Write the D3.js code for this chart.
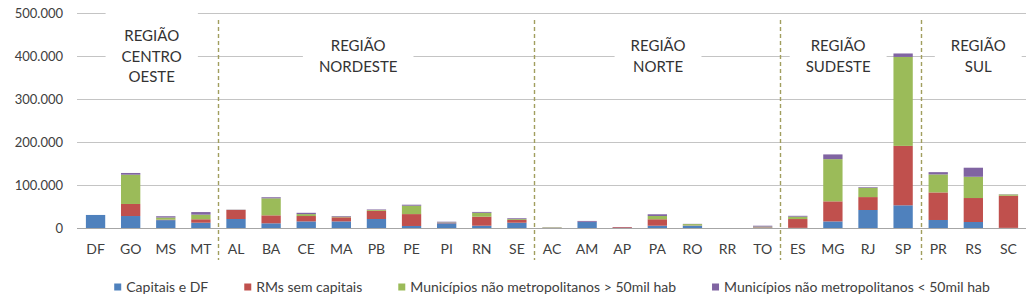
<html>
<head>
    <meta charset="utf-8">
    <title>Municípios por região</title>
    <style>
        body {
            margin: 0;
            background: white;
            font-family: Lato, "Open Sans", sans-serif;
        }
        .grid line {
            stroke: #c4c4c4;
        }
        .m-text {
            fill: #404040;
            font-size: 13px;
        }
        .m-big {
            fill: #404040;
            font-size: 14px;
        }
        .m-region {
            fill: #333333;
            font-size: 15px;
        }
    </style>
    <script src="https://cdn.jsdelivr.net/npm/d3@7"></script>
</head>
<body>
<div class="mainView"></div>
<script>
    // values
    let states = ["DF", "GO", "MS", "MT", "AL", "BA", "CE", "MA", "PB", "PE", "PI", "RN", "SE",
        "AC", "AM", "AP", "PA", "RO", "RR", "TO", "ES", "MG", "RJ", "SP", "PR", "RS", "SC"]
    let capitais = [31000, 28500, 19000, 13000, 21600, 11600, 16000, 16000, 21600, 5400, 11600, 6000, 13000,
        500, 14600, 500, 6000, 6000, 300, 1500, 1000, 16000, 42500, 53400, 19300, 14600, 1000]
    let rmsSemCapitais = [0, 28000, 1000, 8000, 21000, 18500, 12500, 9500, 19000, 27600, 1000, 21000, 6300,
        500, 500, 2000, 15000, 500, 0, 1000, 20500, 46600, 30000, 138000, 64000, 55700, 74600]
    let munMais50 = [0, 68000, 5000, 10700, 300, 39500, 4500, 1500, 2000, 19500, 1000, 9000, 2000,
        1000, 0, 0, 7600, 3300, 0, 1500, 5500, 98000, 21600, 206600, 41800, 49400, 3000]
    let munMenos50 = [0, 4000, 3000, 6000, 500, 2500, 3000, 1500, 1200, 2300, 1700, 2000, 2000,
        500, 2000, 500, 4000, 500, 300, 2000, 2000, 11000, 1500, 8000, 5300, 21000, 500]

    let seriesNames = ["Capitais e DF", "RMs sem capitais",
        "Municípios não metropolitanos > 50mil hab", "Municípios não metropolitanos < 50mil hab"]
    let seriesColors = ["#4F81BD", "#C0504D", "#9BBB59", "#8064A2"]
    let yTicks = [0, 100000, 200000, 300000, 400000, 500000]

    // regions: name lines, first state, label anchor (band index)
    let regions = [
        { lines: ["REGIÃO", "CENTRO", "OESTE"], first: "DF", at: 1.6 },
        { lines: ["REGIÃO", "NORDESTE"], first: "AL", at: 7.48 },
        { lines: ["REGIÃO", "NORTE"], first: "AC", at: 16.02 },
        { lines: ["REGIÃO", "SUDESTE"], first: "ES", at: 21.15 },
        { lines: ["REGIÃO", "SUL"], first: "PR", at: 25.14 }
    ]

    function buildRows() {
        return states.map((s, i) => ({
            state: s,
            s0: capitais[i],
            s1: rmsSemCapitais[i],
            s2: munMais50[i],
            s3: munMenos50[i]
        }))
    }

    function getChartConfig() {
        let width = 1034;
        let height = 301;
        let left = 78, right = 1026, top = 13, bottom = 228.3;
        let svg = d3.select(".mainView")
            .append("svg")
            .attr("width", width)
            .attr("height", height)
        svg.append("rect").attr("width", width).attr("height", height).attr("fill", "white")
        return { width, height, left, right, top, bottom, svg };
    }

    function getChartScales(config) {
        let { left, right, top, bottom } = config;
        let xScale = d3.scaleBand()
            .domain(states)
            .range([left, right])
            .paddingInner(0.45)
            .paddingOuter(0.225)
        let yScale = d3.scaleLinear()
            .domain([0, 500000])
            .range([bottom, top])
        return { xScale, yScale }
    }

    function drawAxes(scales, config) {
        let { xScale, yScale } = scales;
        let { svg, left, right, bottom } = config;
        let locale = d3.formatLocale({ decimal: ",", thousands: ".", grouping: [3], currency: ["", ""] })
        let fmt = locale.format(",d")

        let grid = svg.append("g").attr("class", "grid")
        grid.selectAll("line")
            .data(yTicks.filter(d => d > 0))
            .enter()
            .append("line")
            .attr("x1", left - 1)
            .attr("x2", right)
            .attr("y1", d => Math.round(yScale(d)) + 0.5)
            .attr("y2", d => Math.round(yScale(d)) + 0.5)

        svg.selectAll(".ytick")
            .data(yTicks)
            .enter()
            .append("text")
            .attr("class", "m-text ytick")
            .attr("x", 63)
            .attr("y", d => yScale(d))
            .attr("dy", "0.35em")
            .attr("text-anchor", "end")
            .text(d => fmt(d))

        svg.selectAll(".xtick")
            .data(states)
            .enter()
            .append("text")
            .attr("class", "m-big xtick")
            .attr("x", d => xScale(d) + xScale.bandwidth() / 2)
            .attr("y", 249)
            .attr("dy", "0.35em")
            .attr("text-anchor", "middle")
            .text(d => d)
    }

    function drawBars(rows, scales, config) {
        let { xScale, yScale } = scales;
        let { svg } = config;
        let stack = d3.stack().keys(["s0", "s1", "s2", "s3"])(rows)
        svg.append("g")
            .selectAll("g")
            .data(stack)
            .enter()
            .append("g")
            .attr("fill", (d, i) => seriesColors[i])
            .selectAll("rect")
            .data(d => d)
            .enter()
            .append("rect")
            .attr("x", d => xScale(d.data.state))
            .attr("width", xScale.bandwidth())
            .attr("y", d => yScale(d[1]))
            .attr("height", d => Math.max(0, yScale(d[0]) - yScale(d[1])))

        // zero line
        svg.append("line")
            .attr("x1", config.left - 1)
            .attr("x2", config.right)
            .attr("y1", Math.round(yScale(0)) + 0.5)
            .attr("y2", Math.round(yScale(0)) + 0.5)
            .style("stroke", "#a6a6a6")
    }

    function drawRegions(scales, config) {
        let { xScale } = scales;
        let { svg } = config;
        let step = xScale.step();

        // separators between regions
        regions.slice(1).forEach(r => {
            let x = Math.round(xScale(r.first) - (step - xScale.bandwidth()) / 2) + 0.5
            svg.append("line")
                .attr("x1", x).attr("x2", x)
                .attr("y1", 20).attr("y2", 260)
                .style("stroke", "#a19e5e")
                .style("stroke-width", 1.4)
                .style("stroke-dasharray", "4,3")
        })

        regions.forEach(r => {
            let cx = xScale(states[0]) + xScale.bandwidth() / 2 + r.at * step
            let lineH = 20.5
            let firstY = r.lines.length == 3 ? 36 : 46
            let g = svg.append("g")
            let texts = g.selectAll("text")
                .data(r.lines)
                .enter()
                .append("text")
                .attr("class", "m-region")
                .attr("x", cx)
                .attr("y", (d, i) => firstY + i * lineH)
                .attr("dy", "0.35em")
                .attr("text-anchor", "middle")
                .text(d => d)
            let maxW = d3.max(texts.nodes(), n => n.getComputedTextLength())
            let boxW = maxW + 32
            let boxTop = firstY - 26
            let boxH = (r.lines.length - 1) * lineH + 48
            g.insert("rect", "text")
                .attr("x", cx - boxW / 2)
                .attr("y", boxTop)
                .attr("width", boxW)
                .attr("height", boxH)
                .attr("fill", "white")
        })
    }

    function drawLegend(config) {
        let { svg, left, right } = config;
        let gap = 36;
        let g = svg.append("g")
        let items = g.selectAll("g")
            .data(seriesNames)
            .enter()
            .append("g")
        items.append("rect")
            .attr("width", 7)
            .attr("height", 7)
            .attr("y", 283.5)
            .attr("fill", (d, i) => seriesColors[i])
        let texts = items.append("text")
            .attr("class", "m-big")
            .attr("x", 12)
            .attr("y", 287)
            .attr("dy", "0.35em")
            .text(d => d)
        let widths = texts.nodes().map(n => 12 + n.getComputedTextLength())
        let total = d3.sum(widths) + gap * (widths.length - 1)
        let starts = []
        let x = (left + right) / 2 - total / 2
        widths.forEach(w => {
            starts.push(x)
            x += w + gap
        })
        items.attr("transform", (d, i) => "translate(" + starts[i] + ",0)")
    }

    function showData() {
        let rows = buildRows();
        let config = getChartConfig();
        let scales = getChartScales(config);
        drawAxes(scales, config);
        drawRegions(scales, config);
        drawBars(rows, scales, config);
        drawLegend(config);
    }
    document.fonts.ready.then(showData);
</script>
</body>
</html>
